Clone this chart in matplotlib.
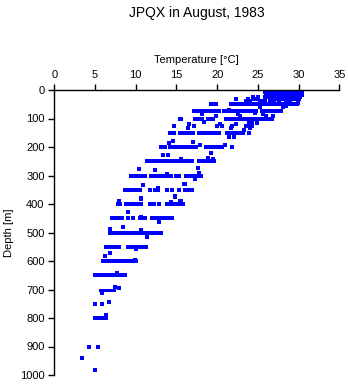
import matplotlib
matplotlib.use("Agg")
import matplotlib.pyplot as plt

# Temperature profile readings, grouped by sampling depth (m) -> temperatures (deg C)
t_000 = [26.8, 27.1, 27.5, 27.8, 28.1, 28.5, 28.8, 29.1, 29.4, 29.7, 30.0, 30.3]
t_008 = [25.9, 26.2, 26.5, 26.8, 27.1, 27.4, 27.7, 28.0, 28.3, 28.6, 28.9, 29.2, 29.5, 29.8, 30.1, 30.4]
t_016 = [26.0, 26.3, 26.6, 26.9, 27.2, 27.5, 27.8, 28.1, 28.4, 28.7, 29.0, 29.3, 29.6, 29.9, 30.2, 30.4]
t_024 = [24.4, 25.0, 25.9, 26.3, 26.6, 26.9, 27.2, 27.5, 27.8, 28.1, 28.4, 28.7, 29.0, 29.3, 29.6, 29.9, 30.2]
t_032 = [22.3, 23.8, 24.4, 24.9, 26.6, 26.9, 27.2, 27.5, 27.8, 28.1, 28.4, 28.7, 29.0, 29.3, 29.6, 30.0]
t_040 = [23.6, 24.0, 25.3, 25.6, 25.9, 26.5, 27.0, 27.6, 28.4, 29.0, 29.9]
t_050 = [19.3, 19.6, 19.9, 21.7, 22.0, 22.4, 22.7, 23.0, 23.4, 23.7, 24.0, 24.3, 24.6, 25.0, 25.3,
         25.6, 25.9, 26.2, 26.5, 26.8, 27.1, 27.4, 27.7, 28.0, 28.3, 28.6, 28.9, 29.2, 29.5, 29.8]
t_075 = [17.2, 17.5, 17.8, 18.1, 18.4, 18.9, 19.2, 19.6, 19.9, 20.2, 20.8, 21.1, 21.4, 21.7, 22.2,
         22.5, 22.9, 23.2, 23.7, 24.0, 24.5, 24.8, 25.5, 25.8, 26.1, 26.4, 26.7, 27.0, 27.3, 27.6, 27.9]
t_100 = [15.4, 15.6, 17.3, 17.6, 17.9, 18.2, 18.9, 19.2, 19.5, 21.1, 21.4, 21.9, 22.2, 22.5, 23.0,
         23.3, 23.6, 24.0, 24.3, 24.6, 24.9, 25.2, 25.5, 25.8, 26.1, 26.4, 26.7]
t_128 = [14.7, 17.1, 20.0, 20.6, 21.8, 23.6, 24.0, 24.3]
t_150 = [14.2, 14.5, 14.7, 15.4, 15.7, 16.0, 16.3, 16.5, 17.0, 17.8, 18.1, 18.4, 18.7, 19.0, 19.3,
         19.6, 19.9, 20.2, 21.2, 21.7, 22.0, 22.3, 22.6, 22.9, 23.2, 23.9]
t_200 = [13.1, 13.4, 13.6, 14.2, 14.5, 14.8, 15.1, 15.4, 15.7, 16.0, 16.3, 16.7, 17.1, 17.4, 18.6,
         18.9, 19.2, 19.7, 20.0, 20.3, 20.6, 21.8]
t_250 = [11.4, 11.7, 12.0, 12.3, 12.6, 12.9, 13.2, 13.5, 14.0, 14.3, 14.6, 15.0, 15.3, 15.6, 15.9,
         16.3, 16.6, 16.9, 17.8, 18.1, 18.4, 18.7, 19.0, 19.3, 19.6]
t_300 = [9.4, 9.7, 10.0, 10.3, 10.6, 10.9, 11.2, 11.9, 12.2, 12.4, 12.9, 13.2, 13.5, 13.8, 14.1,
         14.3, 15.0, 15.3, 16.2, 16.5, 16.8, 17.1, 17.4, 17.7, 18.0]
t_350 = [8.7, 9.0, 9.3, 9.6, 9.9, 10.2, 10.5, 11.7, 12.4, 12.7, 13.8, 14.4, 15.3, 16.0, 16.3, 16.6, 16.9]
t_400 = [7.8, 8.1, 8.8, 9.1, 9.4, 9.7, 10.0, 10.3, 10.6, 11.7, 12.0, 12.2, 12.8, 13.8, 14.1, 14.4,
         14.8, 15.1, 15.4, 15.8]
t_450 = [7.1, 7.4, 7.7, 8.0, 8.3, 9.0, 9.7, 10.5, 10.8, 11.1, 12.0, 12.3, 12.6, 12.9, 13.4, 13.7,
         14.0, 14.3, 14.5]
t_500 = [6.8, 7.1, 7.4, 7.7, 8.0, 8.3, 8.6, 8.9, 9.2, 9.5, 9.8, 10.1, 10.4, 10.7, 11.0, 11.3, 11.6,
         11.8, 12.1, 12.4, 12.8, 13.1]
t_550 = [6.35, 6.6, 6.9, 7.2, 7.75, 8.0, 9.0, 9.3, 9.5, 10.0, 10.3, 10.5, 11.0, 11.3]
t_600 = [6.0, 6.3, 6.7, 7.2, 7.5, 7.8, 8.1, 8.4, 8.7, 9.0, 9.3, 9.7, 10.0]
t_650 = [5.0, 5.3, 5.6, 5.9, 6.2, 6.5, 6.8, 7.0, 7.2, 7.5, 7.8, 8.1, 8.4, 8.7]
t_750 = [5.05, 5.8]
t_800 = [5.05, 5.5, 5.8, 6.0, 6.3]
t_900 = [4.2, 5.4]
t_942 = [3.45]
t_983 = [5.05]

row_depths = [0, 8, 16, 24, 32, 40, 50, 75, 100, 128, 150, 200, 250, 300, 350, 400, 450,
              500, 550, 600, 650, 750, 800, 900, 942, 983]
row_temps = [t_000, t_008, t_016, t_024, t_032, t_040, t_050, t_075, t_100, t_128, t_150, t_200,
             t_250, t_300, t_350, t_400, t_450, t_500, t_550, t_600, t_650, t_750, t_800, t_900,
             t_942, t_983]

# Scattered readings between the standard levels
extra_temp = [29.9, 25.3, 28.1, 28.5, 21.5, 18.1, 22.6, 24.7, 25.6, 26.9, 22.8, 19.8, 18.4, 22.8,
              23.9, 24.9, 26.0, 16.5, 20.4, 22.3, 24.3, 16.4, 21.7, 23.3, 24.0, 21.5, 22.1, 17.0,
              17.9, 21.0, 14.1, 14.6, 19.3, 13.4, 14.0, 15.5, 18.9, 19.5, 19.3, 10.4, 12.4, 13.8,
              17.6, 17.8, 17.3, 15.9, 10.7, 14.8, 12.7, 10.9, 16.1, 8.0, 10.7, 14.3, 15.4, 15.6,
              14.8, 9.0, 10.6, 12.8, 8.4, 6.9, 10.6, 11.4, 10.0, 6.2, 6.8, 9.9, 7.7, 7.45, 7.9,
              5.9, 6.75, 6.3]
extra_depth = [44, 61, 61, 57, 70, 85, 85, 80, 84, 90, 72, 92, 112, 92,
               111, 115, 90, 119, 119, 119, 111, 134, 134, 140, 135, 166, 166, 181,
               193, 193, 187, 180, 222, 228, 228, 242, 239, 243, 220, 278, 281, 295,
               275, 290, 313, 331, 380, 372, 345, 333, 331, 389, 382, 392, 389, 389,
               374, 427, 446, 464, 480, 489, 492, 515, 559, 582, 571, 597, 643, 690, 695,
               713, 743, 789]

# Densely sampled stretch at 700 m
run_700_depth = 700
run_700_range = (5.5, 7.5)

x_ticks = [0, 5, 10, 15, 20, 25, 30, 35]
y_ticks = [0, 100, 200, 300, 400, 500, 600, 700, 800, 900, 1000]

MARK = "#0000ff"
MSIZE = 2.2

plt.rcParams["font.family"] = ["Liberation Sans", "DejaVu Sans"]

fig = plt.figure(figsize=(3.48, 3.84), dpi=100)
ax = fig.add_axes([54.3 / 348, 9 / 384, 285 / 348, 285 / 384])

for depth, temps in zip(row_depths, row_temps):
    ax.plot(temps, [depth] * len(temps), linestyle="none", marker="s",
            markersize=MSIZE, markeredgewidth=0, color=MARK, antialiased=False)
ax.plot(extra_temp, extra_depth, linestyle="none", marker="s",
        markersize=MSIZE, markeredgewidth=0, color=MARK, antialiased=False)
ax.hlines(run_700_depth, *run_700_range, color=MARK, linewidth=1.0, antialiased=False)

ax.set_xlim(0, 35)
ax.set_ylim(1000, 0)
ax.set_xticks(x_ticks)
ax.set_yticks(y_ticks)
ax.xaxis.tick_top()
ax.xaxis.set_label_position("top")
for side in ("right", "bottom"):
    ax.spines[side].set_visible(False)
for side in ("top", "left"):
    ax.spines[side].set_linewidth(1.0)
ax.tick_params(direction="out", length=4, width=1.0, pad=3, labelsize=8)

ax.set_xlabel("Temperature [°C]", fontsize=8, labelpad=5)
ax.set_ylabel("Depth [m]", fontsize=8, labelpad=4)
fig.text(196.5 / 348, 1 - 13 / 384, "JPQX in August, 1983", ha="center", va="center", fontsize=10)

fig.savefig("out.png", dpi=100)
